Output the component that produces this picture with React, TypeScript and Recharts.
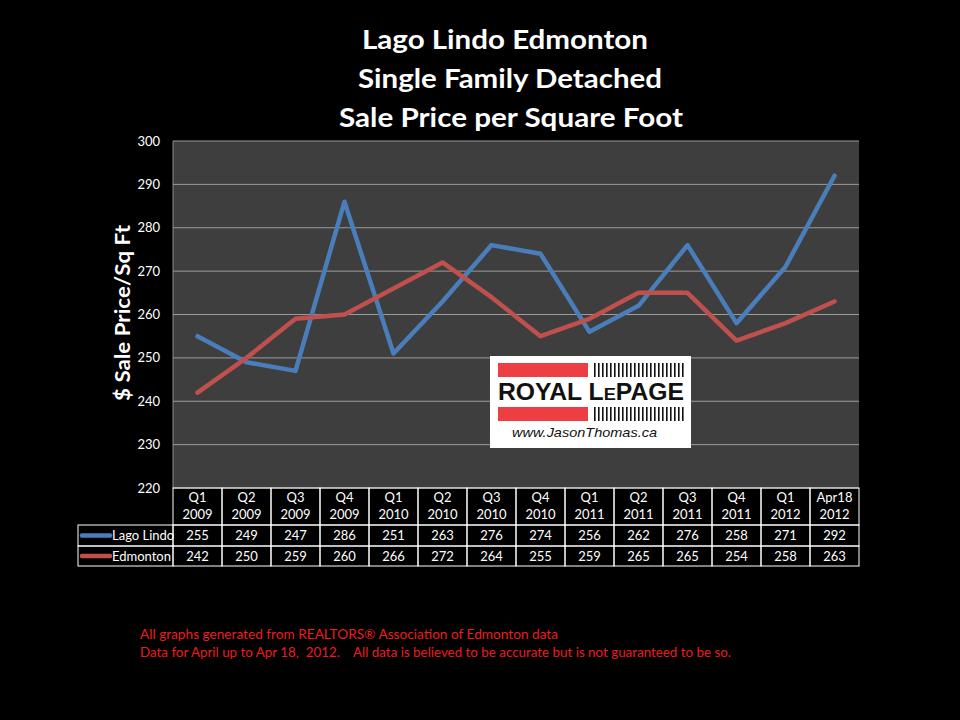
import { LineChart, Line, XAxis, YAxis, CartesianGrid } from "recharts";

const quarters = ["Q1", "Q2", "Q3", "Q4", "Q1", "Q2", "Q3", "Q4", "Q1", "Q2", "Q3", "Q4", "Q1", "Apr18"];
const years = ["2009", "2009", "2009", "2009", "2010", "2010", "2010", "2010", "2011", "2011", "2011", "2011", "2012", "2012"];
const lagoLindo = [255, 249, 247, 286, 251, 263, 276, 274, 256, 262, 276, 258, 271, 292];
const edmonton = [242, 250, 259, 260, 266, 272, 264, 255, 259, 265, 265, 254, 258, 263];
const yTicks = [220, 230, 240, 250, 260, 270, 280, 290, 300];

const data = quarters.map((q, i) => ({
  period: `${q} ${years[i]}`,
  lago: lagoLindo[i],
  edm: edmonton[i],
}));

const FONT = "Lato, 'Open Sans', sans-serif";
const BLUE = "#4a7ebb";
const RED = "#c0504d";
const COL_W = 49;

// each x tick draws one column of the data table under the plot
function TableTick(props: any) {
  const { x, y, payload } = props;
  const i = payload?.index ?? props.index ?? 0;
  const [q, yr] = String(payload.value).split(" ");
  const left = x - COL_W / 2;
  return (
    <g fontFamily={FONT} fontSize={13} fill="#fff">
      <rect x={left} y={y} width={COL_W} height={37} fill="none" stroke="#fff" strokeWidth={1} />
      <rect x={left} y={y + 37} width={COL_W} height={21} fill="none" stroke="#fff" strokeWidth={1} />
      <rect x={left} y={y + 58} width={COL_W} height={20} fill="none" stroke="#fff" strokeWidth={1} />
      <text x={x} y={y + 14} textAnchor="middle">{q}</text>
      <text x={x} y={y + 31} textAnchor="middle">{yr}</text>
      <text x={x} y={y + 52} textAnchor="middle">{lagoLindo[i]}</text>
      <text x={x} y={y + 73} textAnchor="middle">{edmonton[i]}</text>
    </g>
  );
}

function Logo() {
  const bars = Array.from({ length: 23 }, (_, k) => 594 + k * 4);
  return (
    <g>
      <rect x={490} y={356} width={201} height={92} fill="#fff" />
      <rect x={498} y={363} width={90} height={14} fill="#ed3e44" />
      <rect x={498} y={407} width={90} height={14} fill="#ed3e44" />
      {bars.map((bx) => (
        <g key={bx}>
          <rect x={bx} y={363} width={1.6} height={14} fill="#111" />
          <rect x={bx} y={407} width={1.6} height={14} fill="#111" />
        </g>
      ))}
      <text
        x={498}
        y={400}
        fontFamily="'Liberation Sans', Arial, sans-serif"
        fontWeight="bold"
        fontSize={23}
        fill="#111"
        textLength={186}
        lengthAdjust="spacingAndGlyphs"
      >
        ROYAL L<tspan fontSize={17}>E</tspan>PAGE
      </text>
      <text
        x={512}
        y={437}
        fontFamily="'Liberation Sans', Arial, sans-serif"
        fontStyle="italic"
        fontSize={13}
        fill="#111"
        textLength={145}
        lengthAdjust="spacingAndGlyphs"
      >
        www.JasonThomas.ca
      </text>
    </g>
  );
}

export default function App() {
  return (
    <div style={{ position: "absolute", left: 0, top: 0, width: 960, height: 720, background: "#000" }}>
      <LineChart
        width={960}
        height={720}
        data={data}
        margin={{ top: 141, right: 101, bottom: 154, left: 113 }}
      >
        <CartesianGrid vertical={false} fill="#3e3e3e" stroke="#9c9c9c" />
        <XAxis
          dataKey="period"
          height={78}
          interval={0}
          padding={{ left: COL_W / 2, right: COL_W / 2 }}
          axisLine={false}
          tickLine={false}
          tickSize={0}
          tickMargin={0}
          tick={<TableTick />}
        />
        <YAxis
          domain={[220, 300]}
          ticks={yTicks}
          width={60}
          tickLine={false}
          tickMargin={7}
          axisLine={{ stroke: "#8c8c8c" }}
          tick={{ fill: "#fff", fontSize: 13, fontFamily: FONT }}
        />
        <Line
          dataKey="lago"
          name="Lago Lindo"
          stroke={BLUE}
          strokeWidth={4.5}
          dot={false}
          strokeLinejoin="round"
          strokeLinecap="round"
          isAnimationActive={false}
        />
        <Line
          dataKey="edm"
          name="Edmonton"
          stroke={RED}
          strokeWidth={4.5}
          dot={false}
          strokeLinejoin="round"
          strokeLinecap="round"
          isAnimationActive={false}
        />
      </LineChart>
      <svg
        width={960}
        height={720}
        style={{ position: "absolute", left: 0, top: 0, pointerEvents: "none" }}
      >
        <g fontFamily={FONT} fontWeight="bold" fill="#fff" fontSize={27} textAnchor="middle">
          <text x={505} y={49} textLength={286} lengthAdjust="spacingAndGlyphs">Lago Lindo Edmonton</text>
          <text x={510} y={88} textLength={304} lengthAdjust="spacingAndGlyphs">Single Family Detached</text>
          <text x={511} y={127} textLength={344} lengthAdjust="spacingAndGlyphs">Sale Price per Square Foot</text>
        </g>
        <text
          transform="translate(130 313) rotate(-90)"
          textAnchor="middle"
          fontFamily={FONT}
          fontWeight="bold"
          fontSize={20}
          fill="#fff"
          textLength={176}
          lengthAdjust="spacingAndGlyphs"
        >
          $ Sale Price/Sq Ft
        </text>
        {/* legend keys of the data table */}
        <g fontFamily={FONT} fontSize={13} fill="#fff">
          <rect x={78} y={525} width={95} height={21} fill="none" stroke="#fff" />
          <rect x={78} y={546} width={95} height={20} fill="none" stroke="#fff" />
          <line x1={82} y1={535.5} x2={110} y2={535.5} stroke={BLUE} strokeWidth={4.5} strokeLinecap="round" />
          <line x1={82} y1={556} x2={110} y2={556} stroke={RED} strokeWidth={4.5} strokeLinecap="round" />
          <text x={112} y={540}>Lago Lindo</text>
          <text x={112} y={561}>Edmonton</text>
        </g>
        <Logo />
        <g fontFamily={FONT} fontSize={14} fill="#ee1c1c">
          <text x={140} y={639} textLength={418} lengthAdjust="spacingAndGlyphs">
            All graphs generated from REALTORS® Association of Edmonton data
          </text>
          <text x={140} y={657} textLength={591} lengthAdjust="spacingAndGlyphs" xmlSpace="preserve">
            Data for April up to Apr 18,  2012.    All data is believed to be accurate but is not guaranteed to be so.
          </text>
        </g>
      </svg>
    </div>
  );
}
